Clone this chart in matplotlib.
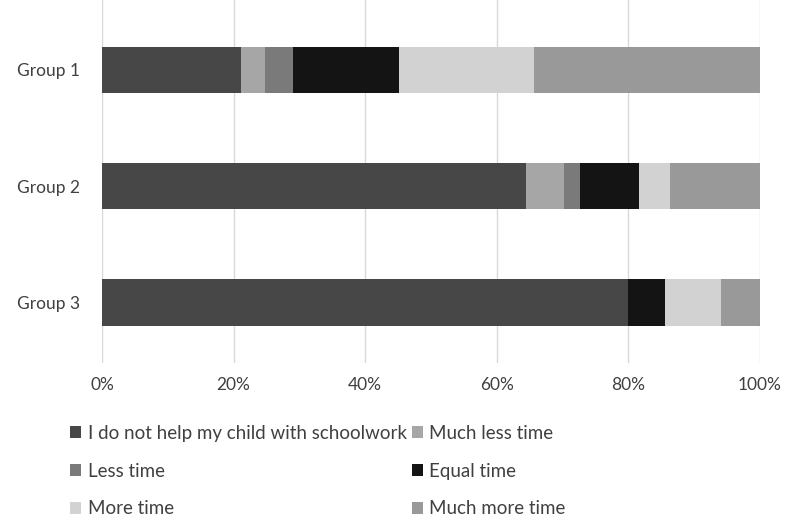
import matplotlib
matplotlib.use("Agg")
import matplotlib.pyplot as plt
from matplotlib.patches import Patch

plt.rcParams['font.family'] = ['Lato', 'DejaVu Sans']

groups = ["Group 1", "Group 2", "Group 3"]
series = ["I do not help my child with schoolwork", "Much less time", "Less time",
          "Equal time", "More time", "Much more time"]
not_help = [21.1, 64.5, 80.0]
much_less = [3.6, 5.7, 0.0]
less = [4.4, 2.4, 0.0]
equal = [16.0, 9.0, 5.6]
more = [20.5, 4.7, 8.5]
much_more = [34.4, 13.7, 5.9]
values = [not_help, much_less, less, equal, more, much_more]
colors = ["#474747", "#a6a6a6", "#7a7a7a", "#141414", "#d2d2d2", "#999999"]
xticks = [0, 20, 40, 60, 80, 100]
xtick_labels = ["0%", "20%", "40%", "60%", "80%", "100%"]

fig = plt.figure(figsize=(7.98, 5.30), dpi=100)
ax = fig.add_axes([102/798, 1 - 363/530, (760-102)/798, 363/530])

ypos = list(range(len(groups)))
left = [0.0] * len(groups)
handles = []
for name, vals, c in zip(series, values, colors):
    ax.barh(ypos, vals, left=left, height=0.4, color=c, zorder=3)
    left = [l + v for l, v in zip(left, vals)]
    handles.append(Patch(facecolor=c, edgecolor='none'))

ax.set_xlim(0, 100)
ax.set_ylim(2.52, -0.6)
ax.set_yticks(ypos)
ax.set_yticklabels(groups, fontsize=12.5, color="#404040")
ax.set_xticks(xticks)
ax.set_xticklabels(xtick_labels, fontsize=12.5, color="#404040")
ax.tick_params(length=0, pad=10, axis='x')
ax.tick_params(length=0, pad=16, axis='y')
ax.grid(axis='x', color="#d9d9d9", linewidth=1, zorder=0)
for s in ax.spines.values():
    s.set_visible(False)

order = [0, 2, 4, 1, 3, 5]
fig.legend([handles[i] for i in order], [series[i] for i in order],
           loc='upper left', bbox_to_anchor=(70/798, 1 - 425/530), ncol=2,
           frameon=False, fontsize=13.5, handlelength=0.6, handleheight=0.6,
           handletextpad=0.35, columnspacing=0.25, labelspacing=1.1,
           labelcolor="#404040", borderaxespad=0, borderpad=0)

fig.savefig("out.png", dpi=100, facecolor="white")
